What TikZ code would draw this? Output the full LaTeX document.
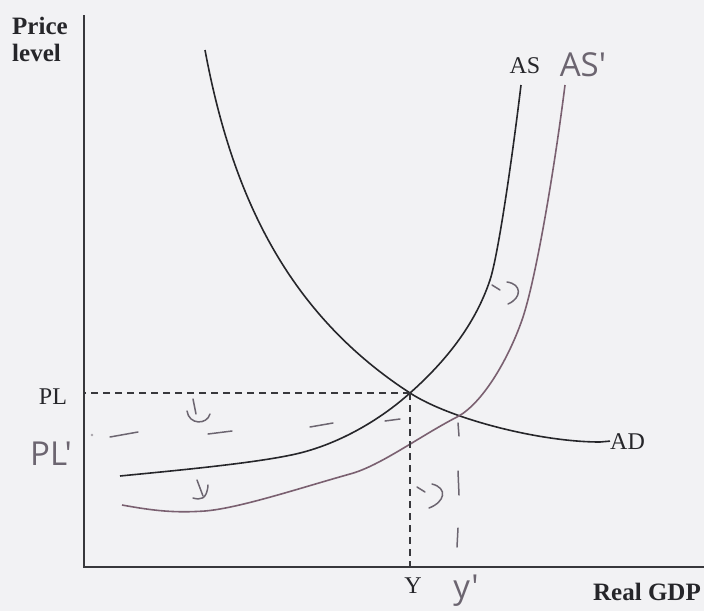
\documentclass[tikz,border=0pt]{standalone}
\usepackage{fontspec}
\setmainfont{Liberation Serif}
\newfontfamily\handfont{Open Sans}
\definecolor{bgcol}{HTML}{F2F2F4}
\definecolor{inkblack}{HTML}{26262A}
\definecolor{axisgray}{HTML}{38383C}
\definecolor{pencil}{HTML}{6C6570}
\definecolor{pencilpurple}{HTML}{7A6070}
\begin{document}
\begin{tikzpicture}[x=1pt,y=-1pt,
  axis/.style={draw=axisgray, line width=2.6pt},
  curve/.style={draw=inkblack, line width=1.6pt},
  curvetwo/.style={draw=pencilpurple, line width=1.6pt},
  guide/.style={draw=axisgray, line width=1.8pt, dash pattern=on 7pt off 5pt},
  pen/.style={draw=pencil, line width=1.5pt, line cap=round},
  lbl/.style={inner sep=0pt, text=inkblack, font=\fontsize{24}{27}\selectfont},
  boldlbl/.style={inner sep=0pt, text=inkblack, font=\fontsize{25}{27}\selectfont\bfseries, align=left},
  hand/.style={inner sep=0pt, text=pencil, font=\handfont\fontsize{33}{35}\selectfont}]
\fill[bgcol] (0,0) rectangle (704,611);
\useasboundingbox (0,0) rectangle (704,611);

% axes
\coordinate (O) at (84,567);
\coordinate (ytop) at (84,15);
\coordinate (xend) at (704,567);
\draw[axis] (ytop) -- (O) -- (xend);

% equilibrium points
\coordinate (E) at (410,393);
\coordinate (Etwo) at (457,417);

% AD curve
\draw[curve] (205,50) .. controls (232,195) and (287,313) .. (E)
  .. controls (450,419) and (540,442) .. (600,442);
% AS curve
\draw[curve] (120,476) .. controls (170,471) and (260,463) .. (300,453)
  .. controls (340,443) and (380,420) .. (E)
  .. controls (445,362) and (475,325) .. (490,280)
  .. controls (498,256) and (512,160) .. (521,85);
% AS' curve (hand drawn)
\draw[curvetwo] (122,505) .. controls (155,511) and (175,513) .. (205,511)
  .. controls (240,508) and (300,488) .. (350,474)
  .. controls (380,466) and (420,436) .. (Etwo)
  .. controls (482,404) and (508,360) .. (522,320)
  .. controls (536,280) and (555,165) .. (565,85);

% guide lines
\draw[guide] (E) -- (E -| O);
\draw[guide] (E) -- (E |- O);

% hand drawn guide dashes for PL' and y'
\fill[pencil!60] (92,435) circle (1.3pt);
\draw[pen] (110,437) -- (138,432);
\draw[pen] (208,434) -- (232,431);
\draw[pen] (310,427) -- (333,423);
\draw[pen] (385,421) -- (400,419);
\draw[pen] (458,423) -- (459,436);
\draw[pen] (458,471) -- (459,495);
\draw[pen] (458,528) -- (457,547);

% hand drawn arrow marks
\draw[pen] (193,399) -- (196,414);
\draw[pen] (187,411) .. controls (189,425) and (207,425) .. (210,414);
\draw[pen] (197,480) -- (203,496);
\draw[pen] (193,498) .. controls (200,500) and (207,500) .. (208,485);
\draw[pen] (492,285) -- (500,290);
\draw[pen] (507,282) .. controls (522,284) and (522,298) .. (508,304);
\draw[pen] (417,487) -- (425,492);
\draw[pen] (432,484) .. controls (448,488) and (445,502) .. (429,508);

% printed labels
\node[boldlbl, anchor=north west] (pricelevel) at (12,17) {Price\\level};
\node[boldlbl, anchor=base] (realgdp) at (647,600) {Real GDP};
\node[lbl, anchor=base] (pl) at (53,404) {PL};
\node[lbl, anchor=base] (ylab) at (413,593) {Y};
\node[lbl, anchor=base] (aslab) at (525,73) {AS};
\node[lbl, anchor=base west] (adlab) at (610,449) {AD};
\draw[curve] (600,442) -- (adlab.west);

% hand written labels
\node[hand, anchor=base] (plprime) at (51,465) {PL'};
\node[hand, anchor=base] (asprime) at (583,76) {AS'};
\node[hand, anchor=base] (yprime) at (466,598) {y'};
\end{tikzpicture}
\end{document}
